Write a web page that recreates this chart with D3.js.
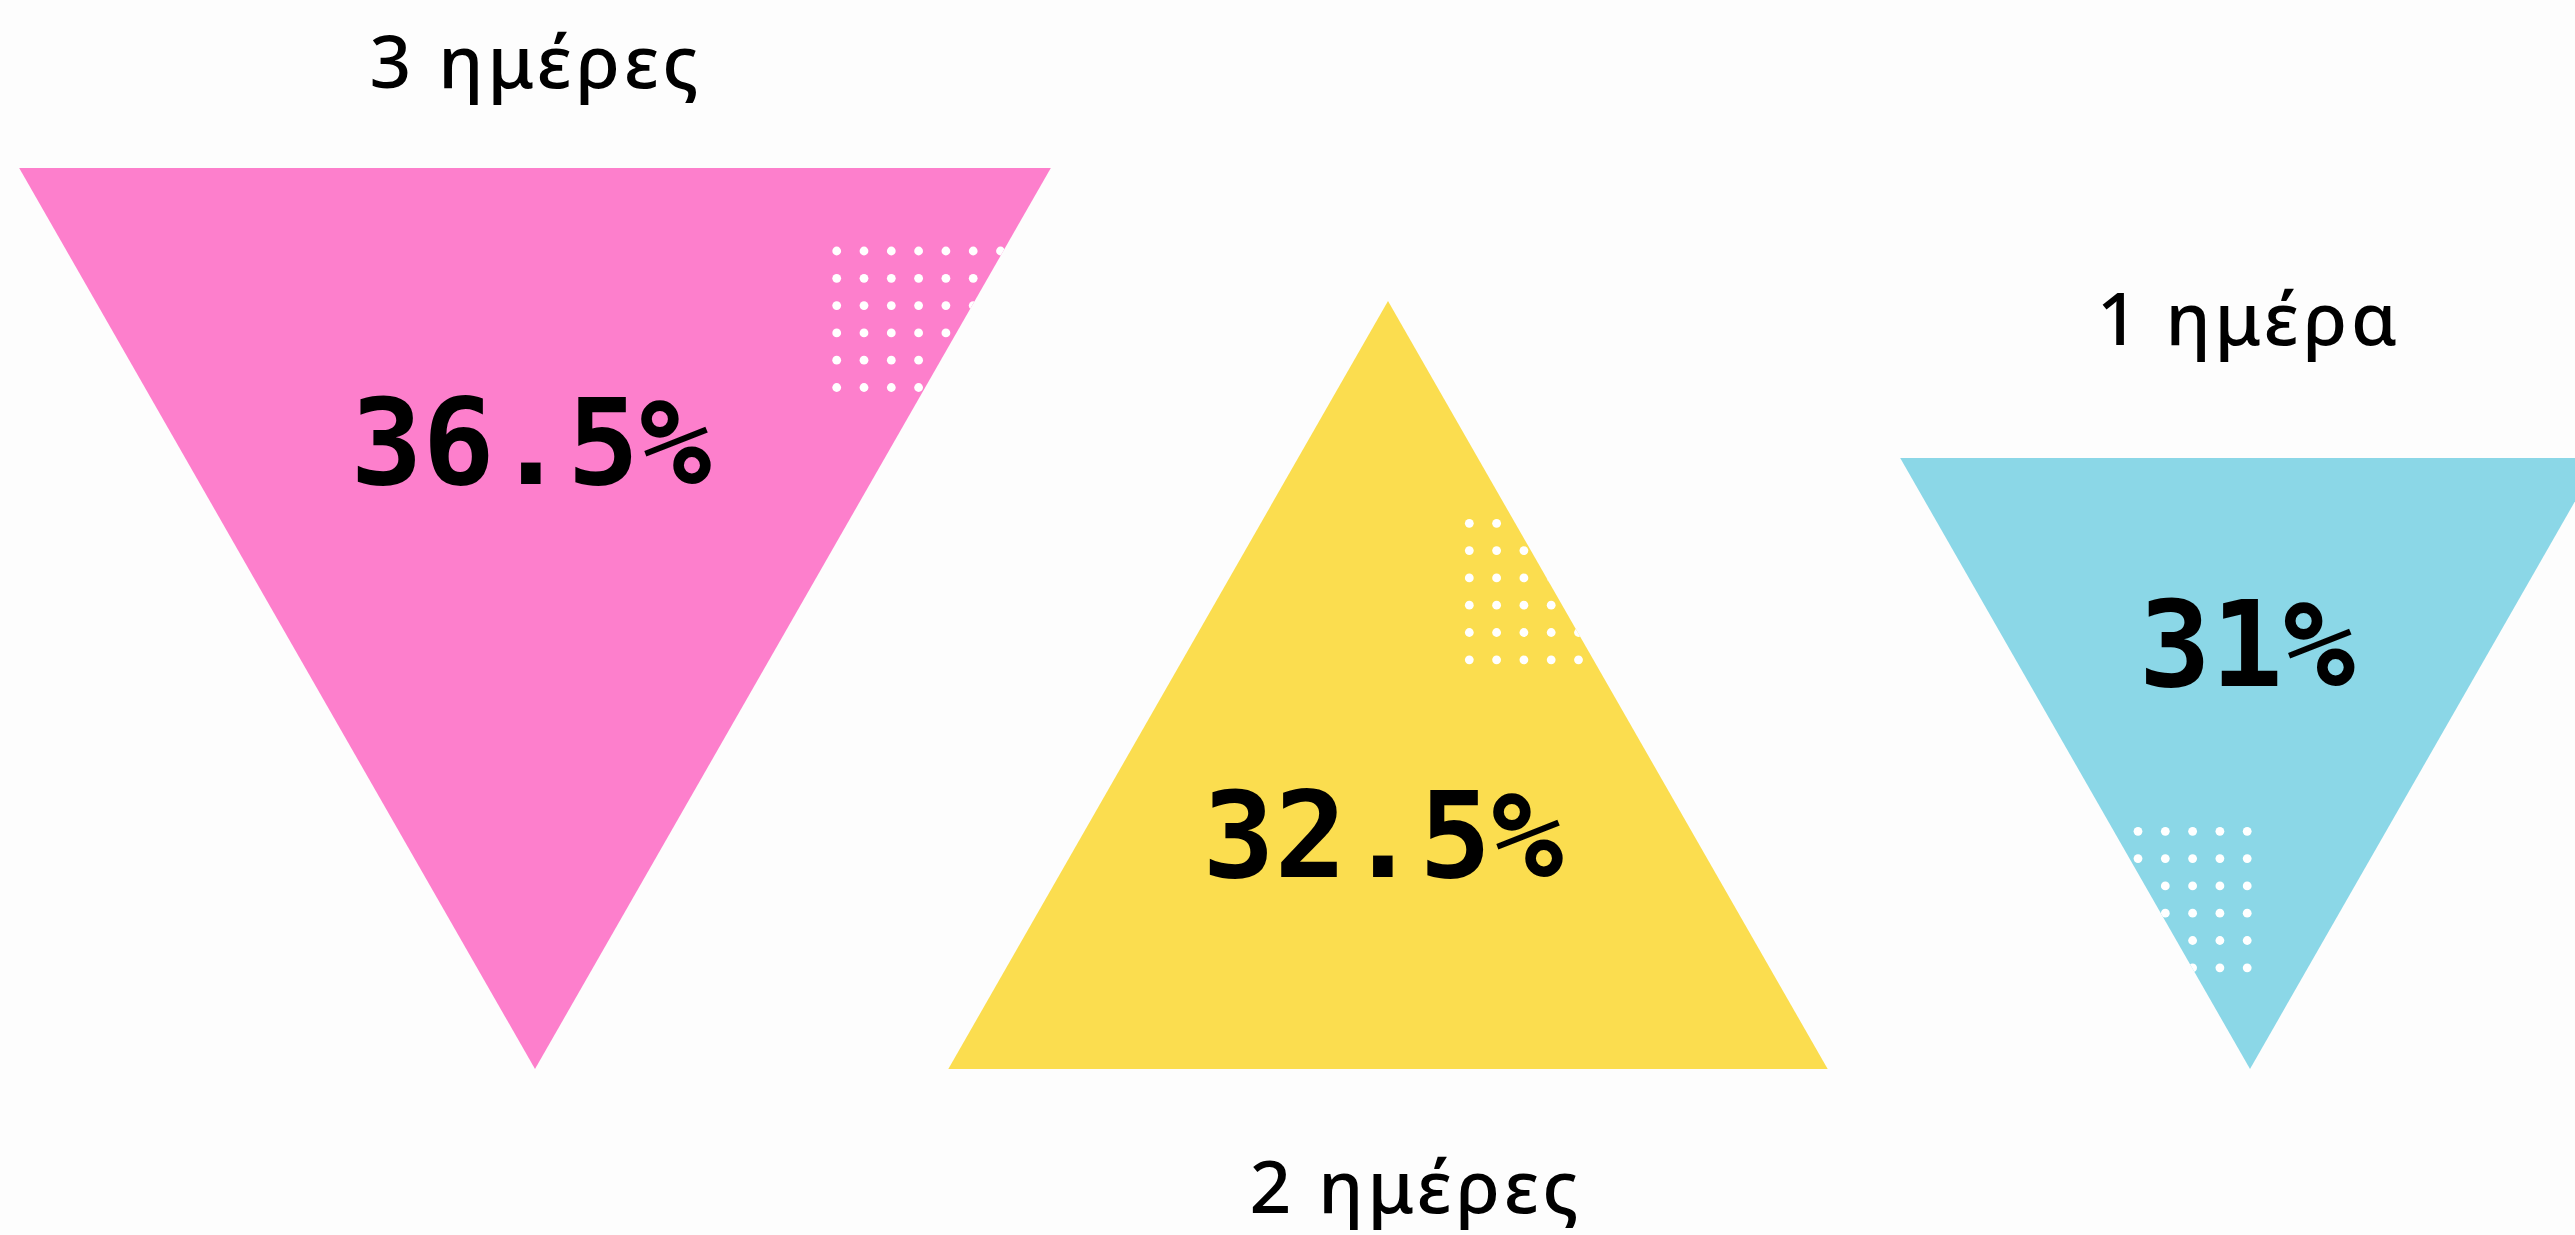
<!DOCTYPE html>
<html>
<head>
<meta charset="utf-8">
<script src="https://cdn.jsdelivr.net/npm/d3@7"></script>
<style>
  html, body { margin: 0; padding: 0; background: #fdfdfd; overflow: hidden; }
  svg { display: block; }
</style>
</head>
<body>
<svg id="chart" width="2575" height="1235"></svg>
<script>
// ---- data ----
const categories = ["3 ημέρες", "2 ημέρες", "1 ημέρα"];
const values = [36.5, 32.5, 31];
const valueLabels = ["36.5%", "32.5%", "31%"];
const colors = ["#fd7fcc", "#fbdd4f", "#8bd7e7"];

// ---- layout (code, not data) ----
const W = 2575, H = 1235;
const baseY = 1069;
const svg = d3.select("#chart");

const xCenter = d3.scaleOrdinal().domain(categories).range([535, 1388, 2250]);
const heightScale = d3.scaleLinear().domain([31, 32.5, 36.5]).range([611, 768, 901]);
const widthRatio = 1.145;
// pointing: true = apex down
const pointDown = [true, false, true];
// dot grid placement relative to triangle (center x, top y)
const dotGrids = [
  { dx: 301.7, dy: 83, cols: 7, rows: 6 },
  { dx: 81.3, dy: 222.3, cols: 7, rows: 6 },
  { dx: -112, dy: 373.3, cols: 5, rows: 6 }
];
const dotStep = 27.3, dotR = 4.4;
const labelPos = [
  { dx: 1, y: 88 },
  { dx: 28, y: 1213 },
  { dx: -1, y: 345 }
];
const valuePos = [
  { dx: -4, y: 484 },
  { dx: -5, y: 877 },
  { dx: -3, y: 686 }
];

const defs = svg.append("defs");

categories.forEach((cat, i) => {
  const cx = xCenter(cat);
  const h = heightScale(values[i]);
  const w = h * widthRatio;
  const top = baseY - h;
  let pts;
  if (pointDown[i]) {
    pts = [[cx - w / 2, top], [cx + w / 2, top], [cx, baseY]];
  } else {
    pts = [[cx, top], [cx + w / 2, baseY], [cx - w / 2, baseY]];
  }
  const pathD = d3.line()(pts) + "Z";

  defs.append("clipPath").attr("id", "clip" + i)
    .append("path").attr("d", pathD);

  const g = svg.append("g");
  g.append("path").attr("d", pathD).attr("fill", colors[i]);

  const grid = dotGrids[i];
  const dots = d3.cross(d3.range(grid.rows), d3.range(grid.cols));
  g.append("g").attr("clip-path", "url(#clip" + i + ")")
    .selectAll("circle").data(dots).join("circle")
    .attr("cx", d => cx + grid.dx + d[1] * dotStep)
    .attr("cy", d => top + grid.dy + d[0] * dotStep)
    .attr("r", dotR)
    .attr("fill", "#ffffff");

  svg.append("text")
    .attr("x", cx + valuePos[i].dx)
    .attr("y", valuePos[i].y)
    .attr("text-anchor", "middle")
    .attr("font-family", "'DejaVu Sans Mono', monospace")
    .attr("font-weight", "bold")
    .attr("font-size", 120)
    .attr("fill", "#000")
    .text(valueLabels[i]);

  svg.append("text")
    .attr("x", cx + labelPos[i].dx)
    .attr("y", labelPos[i].y)
    .attr("text-anchor", "middle")
    .attr("font-family", "'Noto Sans', sans-serif")
    .attr("font-weight", 500)
    .attr("font-size", 73)
    .attr("letter-spacing", 4)
    .attr("fill", "#000")
    .text(cat);
});
</script>
</body>
</html>
